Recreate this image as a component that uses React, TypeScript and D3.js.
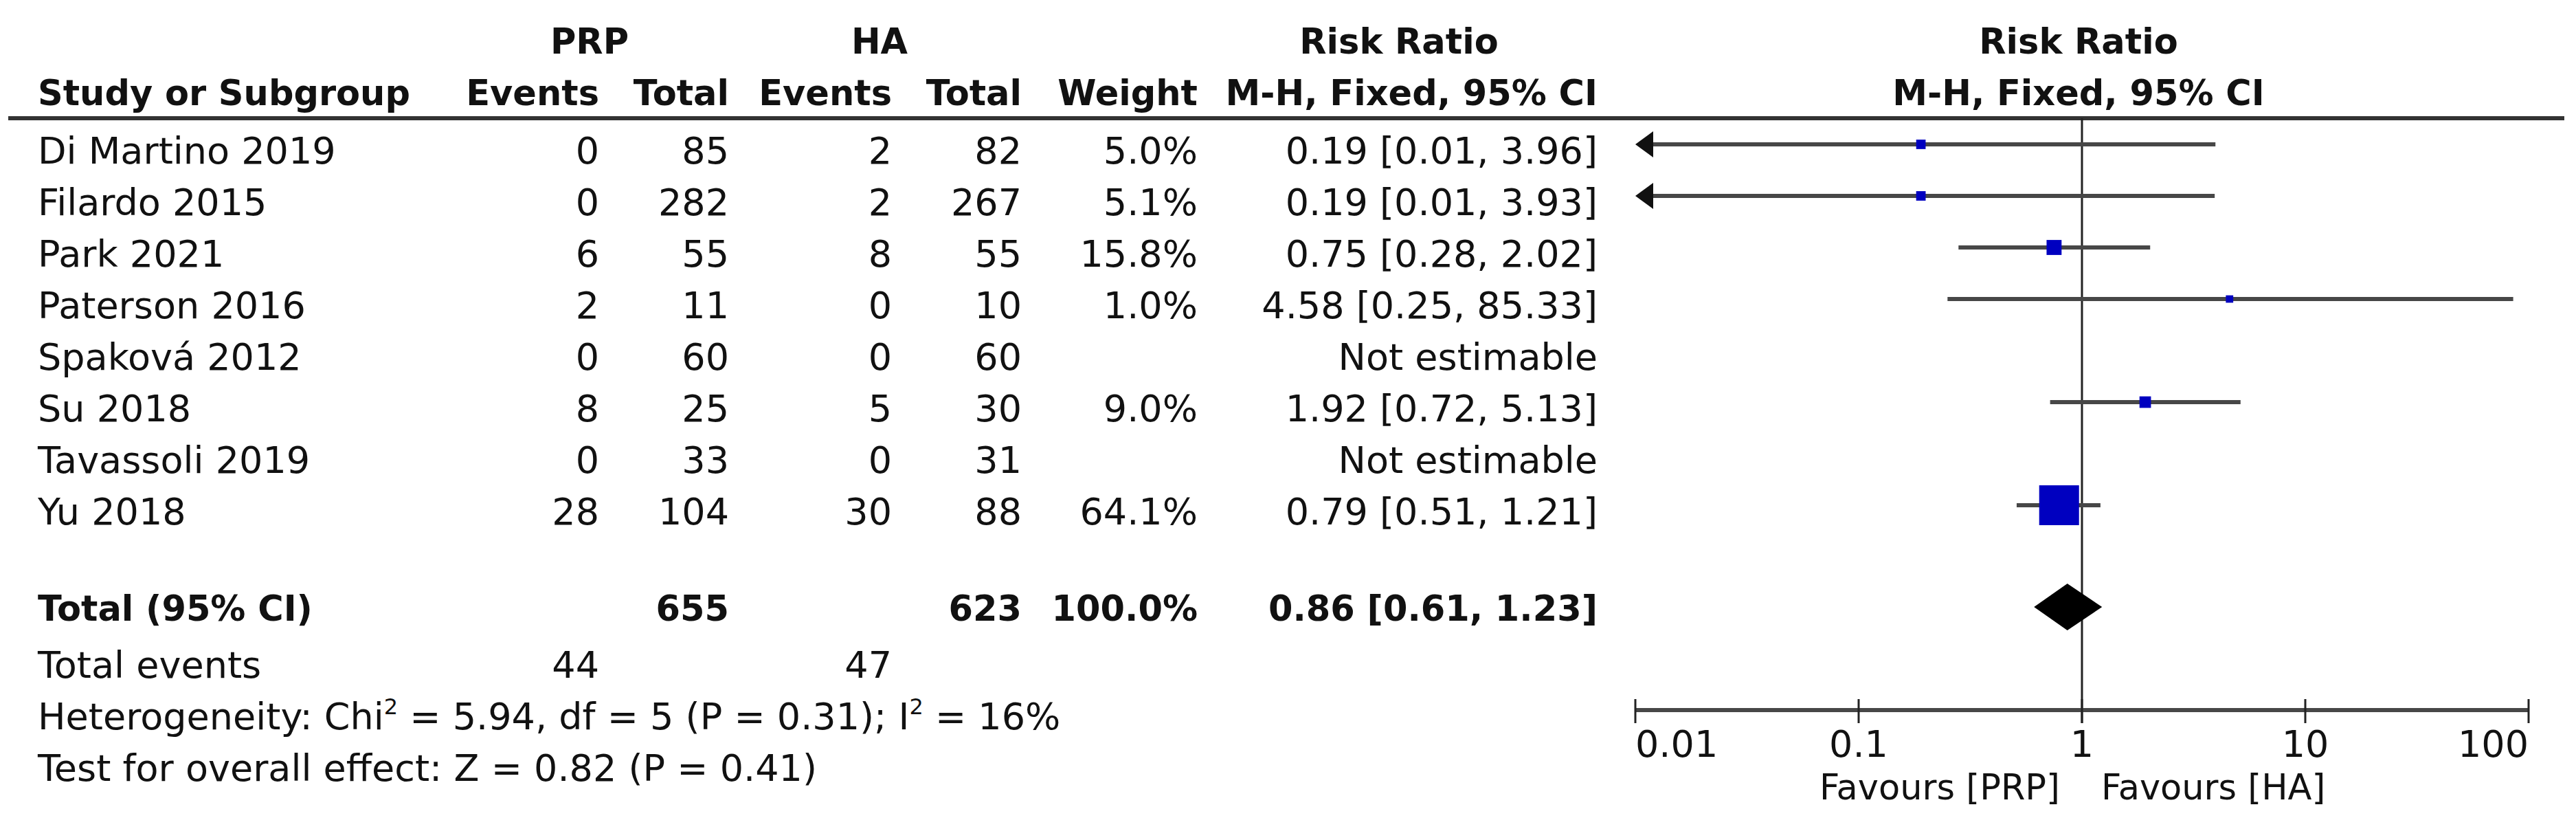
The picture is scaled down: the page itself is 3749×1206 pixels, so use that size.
import React, { useEffect } from 'react';
import * as d3 from 'd3';

// study rows
const studies = ['Di Martino 2019', 'Filardo 2015', 'Park 2021', 'Paterson 2016', 'Spaková 2012', 'Su 2018', 'Tavassoli 2019', 'Yu 2018'];
const prpEvents = [0, 0, 6, 2, 0, 8, 0, 28];
const prpTotal = [85, 282, 55, 11, 60, 25, 33, 104];
const haEvents = [2, 2, 8, 0, 0, 5, 0, 30];
const haTotal = [82, 267, 55, 10, 60, 30, 31, 88];
const weights: (number | null)[] = [5.0, 5.1, 15.8, 1.0, null, 9.0, null, 64.1];
const ratios: (number | null)[] = [0.19, 0.19, 0.75, 4.58, null, 1.92, null, 0.79];
const lowers: (number | null)[] = [0.01, 0.01, 0.28, 0.25, null, 0.72, null, 0.51];
const uppers: (number | null)[] = [3.96, 3.93, 2.02, 85.33, null, 5.13, null, 1.21];

// pooled result
const totalPrp = 655;
const totalHa = 623;
const totalWeight = 100.0;
const pooled = [0.86, 0.61, 1.23]; // estimate, lower, upper
const totalEventsPrp = 44;
const totalEventsHa = 47;

const axisTicks = [0.01, 0.1, 1, 10, 100];

const W = 3749;
const H = 1206;
const FONT = "'DejaVu Sans', Verdana, sans-serif";
const FS = 54;
const FSB = 51;

const fmtCI = (r: number, lo: number, hi: number) => `${r.toFixed(2)} [${lo.toFixed(2)}, ${hi.toFixed(2)}]`;

const App: React.FC = () => {
  useEffect(() => {
    document.body.style.margin = '0';
  }, []);

  const x = d3.scaleLog().domain([0.01, 100]).range([2380, 3680]);
  const rowBase = d3.scaleLinear().domain([0, 1]).range([238, 313]);
  const boxSize = d3.scaleLinear().domain([0, 64.1]).range([10, 58]);

  // column right edges
  const col = { prpE: 872, prpT: 1061, haE: 1298, haT: 1487, wt: 1743, ci: 2325 };
  const left = 55;
  const lineCol = '#474747';

  const totalBase = 903;
  const diamondY = 883;
  const axisY = 1033;

  const diamond = d3.line<[number, number]>()([
    [x(pooled[1]), diamondY],
    [x(pooled[0]), diamondY - 34],
    [x(pooled[2]), diamondY],
    [x(pooled[0]), diamondY + 34],
  ]) + 'Z';

  return (
    <svg width={W} height={H} style={{ display: 'block', background: '#fff' }} fontFamily={FONT} fontSize={FS} fill="#111">
      {/* header */}
      <g fontWeight="bold" fontSize={FSB}>
        <text x={858} y={78} textAnchor="middle">PRP</text>
        <text x={1280} y={78} textAnchor="middle">HA</text>
        <text x={2036} y={78} textAnchor="middle">Risk Ratio</text>
        <text x={x(1) - 5} y={78} textAnchor="middle">Risk Ratio</text>
        <text x={left} y={153}>Study or Subgroup</text>
        <text x={col.prpE} y={153} textAnchor="end">Events</text>
        <text x={col.prpT} y={153} textAnchor="end">Total</text>
        <text x={col.haE} y={153} textAnchor="end">Events</text>
        <text x={col.haT} y={153} textAnchor="end">Total</text>
        <text x={col.wt} y={153} textAnchor="end">Weight</text>
        <text x={col.ci} y={153} textAnchor="end">M-H, Fixed, 95% CI</text>
        <text x={x(1) - 5} y={153} textAnchor="middle">M-H, Fixed, 95% CI</text>
      </g>
      <line x1={12} x2={3732} y1={172} y2={172} stroke="#333" strokeWidth={6} />

      {/* line of no effect */}
      <line x1={x(1)} x2={x(1)} y1={172} y2={axisY + 19} stroke="#222" strokeWidth={3} />

      {/* study rows */}
      {studies.map((s, i) => {
        const yb = rowBase(i);
        const yl = yb - 28;
        const r = ratios[i];
        const lo = lowers[i];
        const hi = uppers[i];
        const w = weights[i];
        return (
          <g key={s}>
            <text x={left} y={yb}>{s}</text>
            <text x={col.prpE} y={yb} textAnchor="end">{prpEvents[i]}</text>
            <text x={col.prpT} y={yb} textAnchor="end">{prpTotal[i]}</text>
            <text x={col.haE} y={yb} textAnchor="end">{haEvents[i]}</text>
            <text x={col.haT} y={yb} textAnchor="end">{haTotal[i]}</text>
            {w !== null && <text x={col.wt} y={yb} textAnchor="end">{w.toFixed(1)}%</text>}
            <text x={col.ci} y={yb} textAnchor="end">
              {r !== null && lo !== null && hi !== null ? fmtCI(r, lo, hi) : 'Not estimable'}
            </text>
            {r !== null && lo !== null && hi !== null && w !== null && (() => {
              const [dMin, dMax] = x.domain();
              const x0 = x(Math.max(lo, dMin));
              const x1 = x(Math.min(hi, dMax));
              const sz = boxSize(w);
              return (
                <g>
                  <line x1={lo <= dMin ? x0 + 20 : x0} x2={x1} y1={yl} y2={yl} stroke={lineCol} strokeWidth={6} />
                  {lo <= dMin && (
                    <path d={`M${x0},${yl}L${x0 + 26},${yl - 19}L${x0 + 26},${yl + 19}Z`} fill="#111" />
                  )}
                  <rect x={x(r) - sz / 2} y={yl - sz / 2} width={sz} height={sz} fill="#0000c0" />
                </g>
              );
            })()}
          </g>
        );
      })}

      {/* total row */}
      <g fontWeight="bold" fontSize={FSB}>
        <text x={left} y={totalBase}>Total (95% CI)</text>
        <text x={col.prpT} y={totalBase} textAnchor="end">{totalPrp}</text>
        <text x={col.haT} y={totalBase} textAnchor="end">{totalHa}</text>
        <text x={col.wt} y={totalBase} textAnchor="end">{totalWeight.toFixed(1)}%</text>
        <text x={col.ci} y={totalBase} textAnchor="end">{fmtCI(pooled[0], pooled[1], pooled[2])}</text>
      </g>
      <path d={diamond} fill="#000" />

      <text x={left} y={986}>Total events</text>
      <text x={col.prpE} y={986} textAnchor="end">{totalEventsPrp}</text>
      <text x={col.haE} y={986} textAnchor="end">{totalEventsHa}</text>
      <text x={left} y={1061}>
        Heterogeneity: Chi<tspan fontSize={32} dy={-22}>2</tspan>
        <tspan dy={22}> = 5.94, df = 5 (P = 0.31); I</tspan>
        <tspan fontSize={32} dy={-22}>2</tspan>
        <tspan dy={22}> = 16%</tspan>
      </text>
      <text x={left} y={1136}>Test for overall effect: Z = 0.82 (P = 0.41)</text>

      {/* axis */}
      <line x1={x(0.01)} x2={x(100)} y1={axisY} y2={axisY} stroke={lineCol} strokeWidth={6} />
      {axisTicks.map((t, i) => (
        <g key={t}>
          <line x1={x(t)} x2={x(t)} y1={axisY - 16} y2={axisY + 19} stroke="#222" strokeWidth={3} />
          <text
            x={x(t)}
            y={1101}
            textAnchor={i === 0 ? 'start' : i === axisTicks.length - 1 ? 'end' : 'middle'}
          >
            {String(t)}
          </text>
        </g>
      ))}
      <text x={x(1) - 32} y={1163} textAnchor="end" fontSize={51}>Favours [PRP]</text>
      <text x={x(1) + 28} y={1163} fontSize={51}>Favours [HA]</text>
    </svg>
  );
};

export default App;
